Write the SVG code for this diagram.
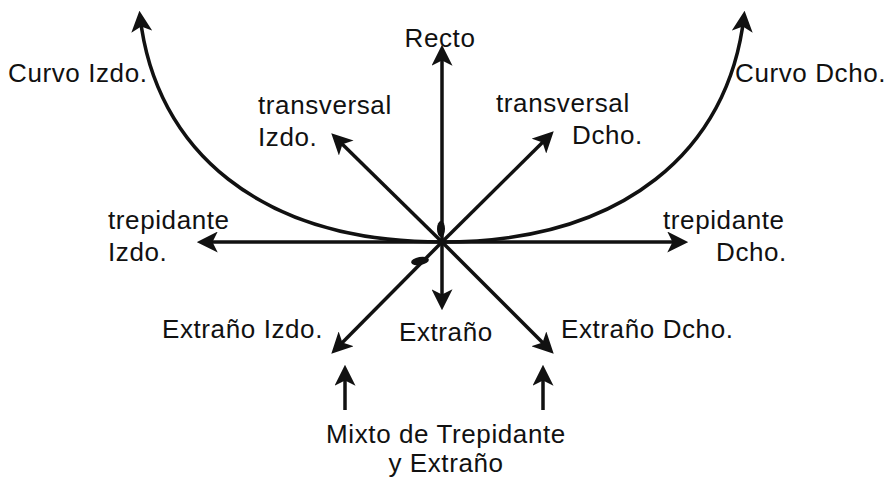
<svg xmlns="http://www.w3.org/2000/svg" width="895" height="487" viewBox="0 0 895 487">
<style>
.l{stroke:#111;stroke-width:3.5;fill:none;marker-end:url(#a)}
text{font-family:"Liberation Sans",Arial,sans-serif;font-size:26px;letter-spacing:0.6px;fill:#111}
</style>
<defs><marker id="a" markerWidth="6" markerHeight="6" refX="4.5" refY="3" orient="auto" markerUnits="strokeWidth"><path d="M0,0L6,3L0,6L1.5,3z" fill="#111"/></marker></defs>
<rect width="895" height="487" fill="#fff"/>
<g id="connectors">
<path class="l" d="M442,242V50"/>
<path class="l" d="M442,242V305"/>
<path class="l" d="M442,242H202"/>
<path class="l" d="M442,242H683"/>
<path class="l" d="M442,242L335,137"/>
<path class="l" d="M442,242L550,135"/>
<path class="l" d="M442,242L335,350"/>
<path class="l" d="M442,242L550,350"/>
<path class="l" d="M442,242C260,242 155,150 140,16"/>
<path class="l" d="M442,242C624,242 729,150 744,16"/>
<path class="l" d="M345,410V370"/>
<path class="l" d="M543,410V370"/>
</g>
<g id="feet" fill="#111">
<ellipse cx="441" cy="229" rx="4" ry="8"/>
<ellipse cx="420" cy="261" rx="9" ry="4" transform="rotate(-10 420 261)"/>
</g>
<g id="labels">
<text x="440" y="47" text-anchor="middle">Recto</text>
<text x="8" y="82">Curvo Izdo.</text>
<text x="735" y="82">Curvo Dcho.</text>
<text x="258" y="114">transversal</text><text x="258" y="146">Izdo.</text>
<text x="496" y="112">transversal</text><text x="572" y="144">Dcho.</text>
<text x="108" y="229">trepidante</text><text x="108" y="261">Izdo.</text>
<text x="663" y="229">trepidante</text><text x="716" y="261">Dcho.</text>
<text x="162" y="338">Extraño Izdo.</text>
<text x="399" y="341">Extraño</text>
<text x="561" y="338">Extraño Dcho.</text>
<text x="446" y="443" text-anchor="middle">Mixto de Trepidante</text>
<text x="446" y="472" text-anchor="middle">y Extraño</text>
</g>
</svg>
